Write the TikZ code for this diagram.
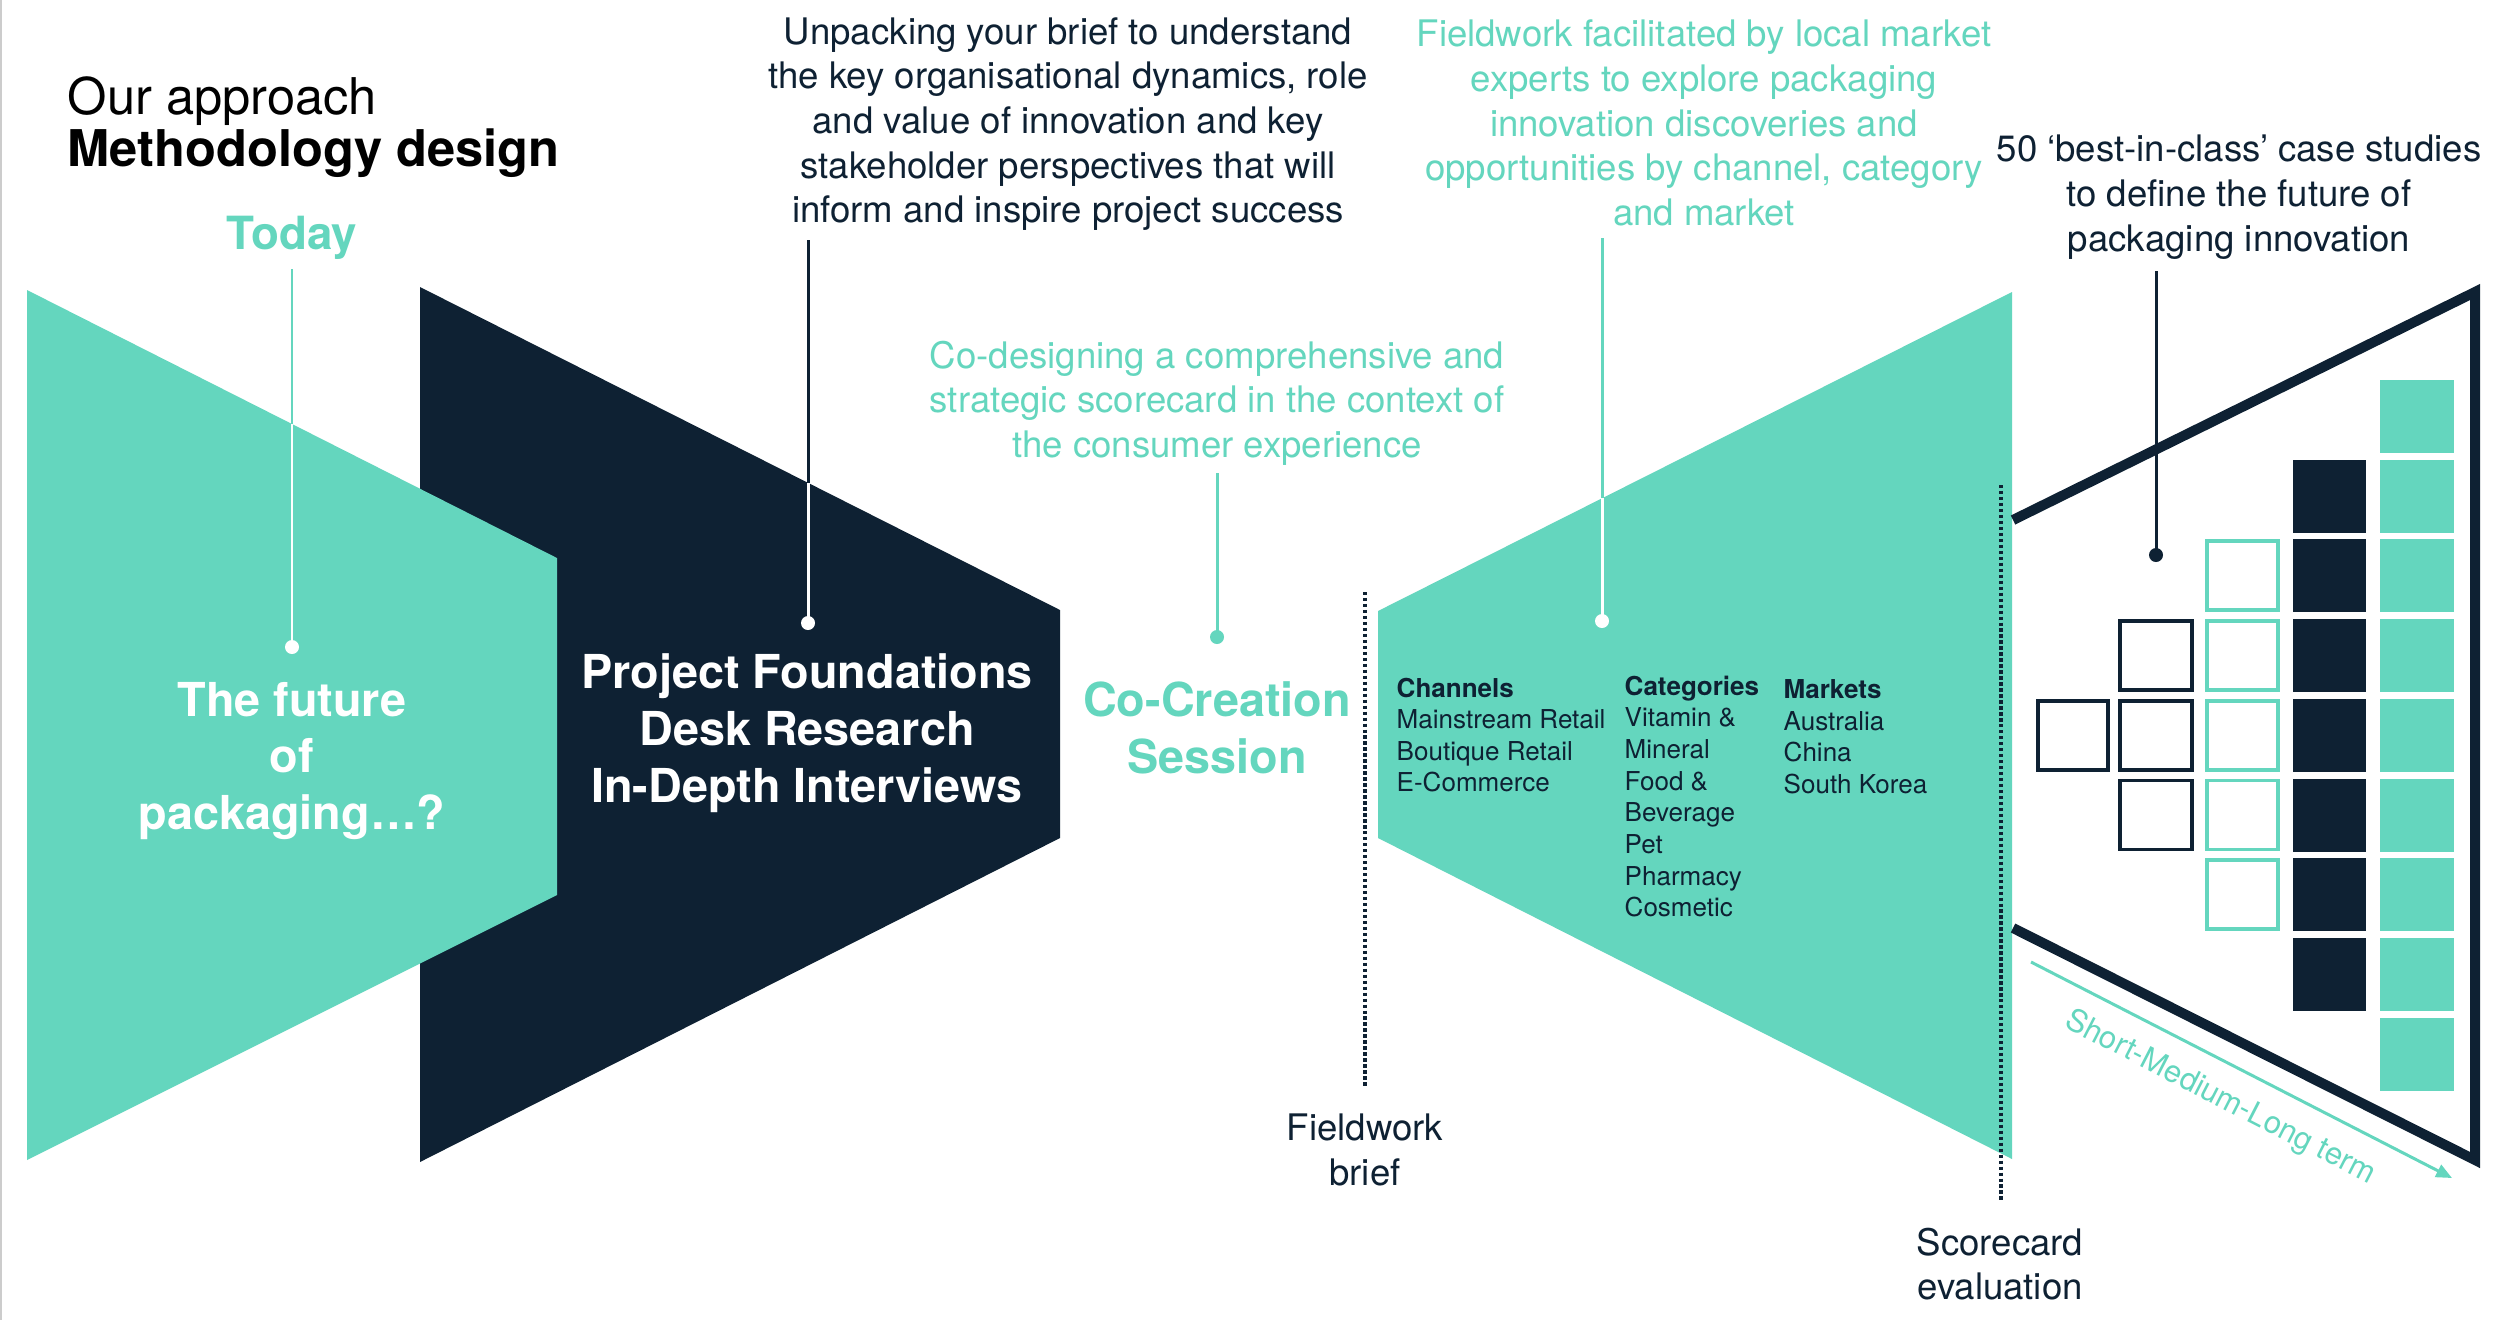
\documentclass[tikz,border=0pt]{standalone}
\usepackage{fontspec}
\setmainfont{TeX Gyre Heros}
\usetikzlibrary{arrows.meta}
\definecolor{mint}{RGB}{100,214,190}
\definecolor{navy}{RGB}{14,33,51}
\begin{document}
\begin{tikzpicture}[x=0.01cm,y=-0.01cm,
  body/.style={font=\fontsize{10.4}{12.7}\selectfont, align=center, inner sep=0pt},
  big/.style={font=\bfseries\fontsize{13.3}{16.2}\selectfont, align=center, inner sep=0pt},
  listtext/.style={font=\fontsize{7.4}{9}\selectfont, align=left, inner sep=0pt, anchor=north west, text=navy},
  conn/.style={line width=0.85pt},
  dotn/.style={circle, inner sep=0pt, minimum size=0.14cm},
  dotline/.style={line width=1.1pt, dash pattern=on 0.95pt off 0.75pt, navy},
  outsq/.style={line width=1.1pt}]
\useasboundingbox (0,0) rectangle (2500,1320);
\fill[white] (0,0) rectangle (2500,1320);
\draw[black!20, line width=0.6pt] (1,0) -- (1,1320);

% title
\node[anchor=base west, inner sep=0pt, font=\fontsize{14.4}{17}\selectfont] (title1) at (67,114) {Our approach};
\node[anchor=base west, inner sep=0pt, font=\bfseries\fontsize{14.4}{17}\selectfont] (title2) at (67,166) {Methodology design};

% shapes
\fill[navy] (420,287) -- (1060,610) -- (1060,838) -- (420,1162) -- cycle;
\fill[mint] (27,290) -- (557,558) -- (557,895) -- (27,1160) -- cycle;
\fill[mint] (1378,611) -- (2012,292) -- (2012,1159) -- (1378,838) -- cycle;
\draw[navy, line width=2.85pt, line join=miter] (2013,520) -- (2475,292) -- (2475,1160) -- (2013,928);

% squares
\foreach \k in {0,...,8} {\fill[mint] (2380,{380+79.7*\k}) rectangle +(74,73);}
\foreach \k in {1,...,7} {\fill[navy] (2293,{380+79.7*\k}) rectangle +(73,73);}
\foreach \k in {2,...,6} {\draw[mint,outsq] (2207,{382+79.7*\k}) rectangle +(71,69);}
\foreach \k in {3,...,5} {\draw[navy,outsq] (2120,{382+79.7*\k}) rectangle +(72,69);}
\draw[navy,outsq] (2038,{382+79.7*4}) rectangle +(70,69);

% texts
\node[body, text=navy] (unpack) at (1068,124) {Unpacking your brief to understand\\the key organisational dynamics, role\\and value of innovation and key\\stakeholder perspectives that will\\inform and inspire project success};
\node[body, text=mint] (fieldtxt) at (1704,123) {Fieldwork facilitated by local market\\experts to explore packaging\\innovation discoveries and\\opportunities by channel, category\\and market};
\node[body, text=mint] (codesign) at (1217,403) {Co-designing a comprehensive and\\strategic scorecard in the context of\\the consumer experience};
\node[body, text=navy] (fifty) at (2239,197) {50 ‘best-in-class’ case studies\\to define the future of\\packaging innovation};
\node[inner sep=0pt, text=mint, font=\bfseries\fontsize{13}{16}\selectfont] (today) at (292,238) {Today};
\node[big, text=white] (future) at (292,761) {The future\\of\\packaging…?};
\node[big, text=white] (project) at (807,733) {Project Foundations\\Desk Research\\In-Depth Interviews};
\node[big, text=mint] (cocreation) at (1217,728) {Co-Creation\\Session};
\node[body, text=navy] (fbrief) at (1365,1150) {Fieldwork\\brief};
\node[body, text=navy] (score) at (2000,1264) {Scorecard\\evaluation};

\node[listtext] (channels) at (1396,677) {\textbf{Channels}\\Mainstream Retail\\Boutique Retail\\E-Commerce};
\node[listtext] (categories) at (1624,675) {\textbf{Categories}\\Vitamin \&\\Mineral\\Food \&\\Beverage\\Pet\\Pharmacy\\Cosmetic};
\node[listtext] (markets) at (1783,679) {\textbf{Markets}\\Australia\\China\\South Korea};

% connectors
\coordinate (todaytop) at (292,269);
\coordinate (todayedge) at (292,424);
\node[dotn, fill=white] (todaydot) at (292,647) {};
\draw[conn, mint] (todaytop) -- (todayedge);
\draw[conn, white] (todayedge) -- (todaydot.center);

\coordinate (projtop) at (808,240);
\coordinate (projedge) at (808,483);
\node[dotn, fill=white] (projdot) at (808,623) {};
\draw[conn, navy] (projtop) -- (projedge);
\draw[conn, white] (projedge) -- (projdot.center);

\coordinate (cotop) at (1217,473);
\node[dotn, fill=mint] (codot) at (1217,637) {};
\draw[conn, mint] (cotop) -- (codot.center);

\coordinate (fieldtop) at (1602,238);
\coordinate (fieldedge) at (1602,498);
\node[dotn, fill=white] (fielddot) at (1602,621) {};
\draw[conn, mint] (fieldtop) -- (fieldedge);
\draw[conn, white] (fieldedge) -- (fielddot.center);

\coordinate (fiftytop) at (2156,271);
\node[dotn, fill=navy] (fiftydot) at (2156,555) {};
\draw[conn, navy] (fiftytop) -- (fiftydot.center);

% dotted markers
\coordinate (fbtop) at (1365,592);
\coordinate (fbbot) at (1365,1088);
\draw[dotline] (fbtop) -- (fbbot);
\coordinate (sctop) at (2001,485);
\coordinate (scbot) at (2001,1200);
\draw[dotline] (sctop) -- (scbot);

% term arrow
\coordinate (smlA) at (2031,962);
\coordinate (smlB) at (2452,1178);
\draw[mint, line width=0.85pt, -{Triangle[length=4.5pt,width=3.8pt]}] (smlA) -- (smlB);
\node[rotate=-27.2, text=mint, inner sep=0pt, font=\fontsize{8.8}{10}\selectfont] (smltext) at (2220,1098) {Short-Medium-Long term};
\end{tikzpicture}
\end{document}
